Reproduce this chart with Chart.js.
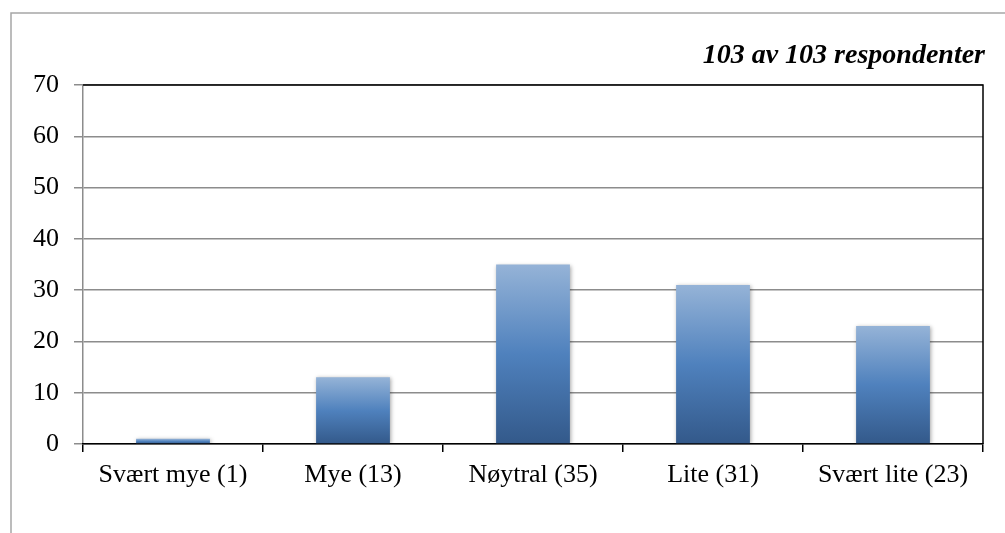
<!DOCTYPE html>
<html lang="no">
  <head>
    <meta charset="UTF-8" />
    <title>103 av 103 respondenter</title>
    <script src="https://cdn.jsdelivr.net/npm/chart.js"></script>
    <style>
      html, body {
        margin: 0;
        padding: 0;
        background: white;
      }
      #wrap {
        width: 1005px;
        height: 533px;
      }
    </style>
  </head>
  <body>
    <div id="wrap"><canvas id="chart" width="1005" height="533"></canvas></div>

    <script>
      const categories = [
        "Svært mye (1)",
        "Mye (13)",
        "Nøytral (35)",
        "Lite (31)",
        "Svært lite (23)",
      ];
      const counts = [1, 13, 35, 31, 23];
      const subtitle = "103 av 103 respondenter";

      const serif = "'Liberation Serif', 'Times New Roman', serif";

      function barGradient(context) {
        const chart = context.chart;
        if (!chart.chartArea || context.type !== "data") return "#4f81bd";
        const y = chart.scales.y;
        const top = y.getPixelForValue(context.raw);
        const bottom = y.getPixelForValue(0);
        if (!isFinite(top) || bottom - top < 1) return "#4f81bd";
        const g = chart.ctx.createLinearGradient(0, top, 0, bottom);
        g.addColorStop(0, "#95b3d7");
        g.addColorStop(0.5, "#4f81bd");
        g.addColorStop(1, "#33598a");
        return g;
      }

      // frame, plot border and the respondent line
      const decor = {
        id: "decor",
        beforeDatasetsDraw(chart) {
          const ctx = chart.ctx;
          ctx.save();
          ctx.shadowColor = "rgba(0,0,0,0.35)";
          ctx.shadowBlur = 4;
          ctx.shadowOffsetX = 1;
          ctx.shadowOffsetY = 1;
        },
        afterDatasetsDraw(chart) {
          chart.ctx.restore();
        },
        afterDraw(chart) {
          const ctx = chart.ctx;
          const a = chart.chartArea;
          ctx.save();
          ctx.strokeStyle = "#a6a6a6";
          ctx.lineWidth = 1.5;
          ctx.beginPath();
          ctx.moveTo(11, 533);
          ctx.lineTo(11, 13);
          ctx.lineTo(1005, 13);
          ctx.stroke();

          ctx.strokeStyle = "#000";
          ctx.lineWidth = 1.5;
          ctx.beginPath();
          ctx.moveTo(a.left, a.top);
          ctx.lineTo(a.right, a.top);
          ctx.lineTo(a.right, a.bottom);
          ctx.stroke();

          ctx.fillStyle = "#000";
          ctx.font = "italic bold 28px " + serif;
          ctx.textAlign = "right";
          ctx.textBaseline = "alphabetic";
          ctx.fillText(subtitle, 985, 63);
          ctx.restore();
        },
      };

      new Chart(document.getElementById("chart"), {
        type: "bar",
        data: {
          labels: categories,
          datasets: [
            {
              data: counts,
              backgroundColor: barGradient,
              borderWidth: 0,
              barPercentage: 0.41,
              categoryPercentage: 1,
            },
          ],
        },
        options: {
          responsive: false,
          animation: false,
          layout: { padding: { left: 0, right: 22, top: 85, bottom: 0 } },
          plugins: {
            legend: { display: false },
            tooltip: { enabled: false },
          },
          scales: {
            y: {
              min: 0,
              max: 70,
              ticks: {
                stepSize: 10,
                color: "#000",
                padding: 15,
                font: { family: serif, size: 26 },
              },
              grid: {
                color: "#8c8c8c",
                lineWidth: 1.5,
                tickLength: 9,
              },
              border: { color: "#8c8c8c", width: 1.5 },
              afterFit(scale) {
                scale.width = 83;
              },
            },
            x: {
              ticks: {
                color: "#000",
                padding: 8,
                font: { family: serif, size: 26 },
                maxRotation: 0,
              },
              grid: {
                drawOnChartArea: false,
                color: "#000",
                lineWidth: 1.5,
                tickLength: 8,
              },
              border: { color: "#000", width: 1.5 },
              afterFit(scale) {
                scale.height = 89;
              },
            },
          },
        },
        plugins: [decor],
      });
    </script>
  </body>
</html>
